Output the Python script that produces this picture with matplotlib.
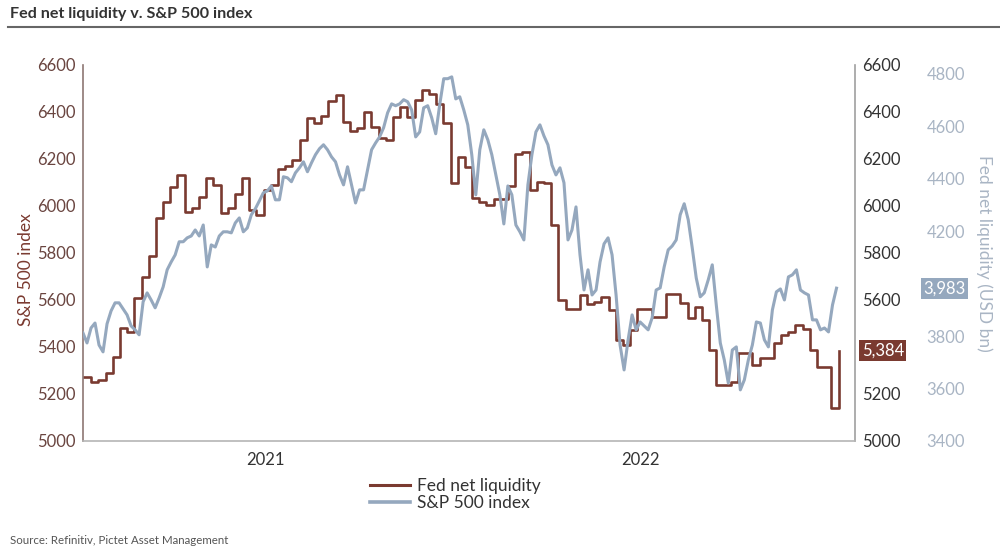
import pandas as pd
import matplotlib
matplotlib.use("Agg")
import matplotlib.pyplot as plt
import matplotlib.transforms as mtransforms
from matplotlib.lines import Line2D

plt.rcParams["font.family"] = ["Lato", "DejaVu Sans"]

# ── data ─────────────────────────────────────────────────────────────────────
# Fed net liquidity, USD bn, weekly from 2020-07-08
fed_start = "2020-07-08"
fed_liq = [
    5272, 5251, 5260, 5289, 5357, 5481, 5464, 5608, 5698, 5787,
    5949, 6017, 6081, 6132, 5974, 5991, 6038, 6119, 6089, 5970,
    5991, 6051, 6119, 5983, 5962, 6068, 6089, 6157, 6170, 6196,
    6281, 6374, 6353, 6383, 6447, 6472, 6357, 6319, 6332, 6400,
    6336, 6289, 6281, 6379, 6421, 6379, 6451, 6494, 6476, 6434,
    6353, 6098, 6208, 6166, 6034, 6017, 6004, 6030, 6030, 6085,
    6221, 6230, 6068, 6102, 6098, 5919, 5600, 5562, 5562, 5621,
    5583, 5591, 5613, 5557, 5430, 5408, 5472, 5562, 5562, 5528,
    5528, 5625, 5625, 5587, 5523, 5570, 5515, 5387, 5238, 5238,
    5251, 5374, 5374, 5323, 5353, 5353, 5417, 5451, 5464, 5494,
    5477, 5387, 5315, 5315, 5140, 5384,
]

# S&P 500 index, roughly twice a week between these dates
sp_start, sp_end = "2020-07-07", "2022-07-11"
sp500 = [
    3812, 3774, 3831, 3850, 3766, 3740, 3847, 3896, 3927, 3927,
    3904, 3881, 3839, 3824, 3805, 3931, 3965, 3938, 3908, 3946,
    3988, 4053, 4083, 4110, 4160, 4160, 4175, 4182, 4205, 4182,
    4224, 4064, 4148, 4140, 4182, 4198, 4198, 4194, 4232, 4251,
    4198, 4213, 4263, 4286, 4316, 4347, 4354, 4373, 4320, 4320,
    4408, 4404, 4389, 4423, 4442, 4465, 4427, 4461, 4492, 4515,
    4530, 4511, 4484, 4465, 4415, 4377, 4446, 4377, 4308, 4358,
    4358, 4434, 4511, 4537, 4560, 4595, 4652, 4686, 4679, 4686,
    4702, 4694, 4663, 4560, 4579, 4671, 4679, 4633, 4572, 4683,
    4782, 4782, 4789, 4705, 4713, 4663, 4606, 4492, 4339, 4511,
    4587, 4549, 4492, 4415, 4339, 4228, 4373, 4339, 4224, 4198,
    4167, 4377, 4492, 4579, 4606, 4564, 4530, 4453, 4415, 4442,
    4385, 4167, 4205, 4293, 4110, 3976, 4053, 3957, 3976, 4083,
    4152, 4175, 4110, 3957, 3766, 3671, 3786, 3881, 3824, 3854,
    3839, 3824, 3870, 3976, 3984, 4064, 4129, 4144, 4167, 4263,
    4305, 4244, 4137, 4022, 3950, 3965, 4015, 4072, 3919, 3774,
    3709, 3621, 3747, 3759, 3595, 3633, 3709, 3766, 3854, 3850,
    3786, 3759, 3900, 3969, 3980, 3938, 4026, 4034, 4053, 3976,
    3965, 3957, 3862, 3862, 3824, 3831, 3816, 3919, 3983,
]

year_ticks = ["2021-01-01", "2022-01-01"]
year_labels = ["2021", "2022"]
liq_ticks = list(range(5000, 6601, 200))
sp_ticks = list(range(3400, 4801, 200))

fed_dates = pd.date_range(fed_start, periods=len(fed_liq), freq="7D")
sp_dates = pd.date_range(sp_start, sp_end, periods=len(sp500))

# ── colours ──────────────────────────────────────────────────────────────────
BROWN = "#7a3a30"
BLUE = "#95a8be"
BLUE_TXT = "#a9b5c4"
DARK = "#333333"

# ── figure ───────────────────────────────────────────────────────────────────
fig = plt.figure(figsize=(10, 5.54), dpi=100)
ax = fig.add_axes([0.083, 0.204, 0.772, 0.679])

ax.plot(fed_dates, fed_liq, drawstyle="steps-post", color=BROWN, lw=1.9)
ax.set_ylim(5000, 6600)
ax.set_yticks(liq_ticks)
ax.set_xlim(pd.Timestamp("2020-07-07"), pd.Timestamp("2022-07-29"))
ax.set_xticks([pd.Timestamp(d) for d in year_ticks])
ax.set_xticklabels(year_labels)
ax.tick_params(axis="y", length=0, pad=5, labelsize=12, labelcolor="#6a4540")
ax.tick_params(axis="x", length=0, pad=8, labelsize=12, labelcolor=DARK)
ax.set_ylabel("S&P 500 index", color=BROWN, fontsize=12.5)
ax.yaxis.set_label_coords(-0.064, 0.455)
ax.spines["top"].set_visible(False)
ax.spines["left"].set_color("#8d7773")
ax.spines["right"].set_color("#a0a0a0")
ax.spines["bottom"].set_color("#b5b5b5")
for s in ("left", "right", "bottom"):
    ax.spines[s].set_linewidth(1.2)

# last values, shown as badges over the right-hand scales
last_liq = fed_liq[-1]
last_sp = sp500[-1]

# right-hand copy of the liquidity scale (the badge hides the 5400 label)
ax2 = ax.twinx()
ax2.set_ylim(5000, 6600)
ax2.set_yticks(liq_ticks)
ax2.set_yticklabels(["" if abs(t - last_liq) < 60 else str(t) for t in liq_ticks])
ax2.tick_params(axis="y", length=0, pad=5, labelsize=12, labelcolor=DARK)
for s in ax2.spines.values():
    s.set_visible(False)

# S&P scale, pushed further right (the badge hides the 4000 label)
ax3 = ax.twinx()
ax3.plot(sp_dates, sp500, color=BLUE, lw=2.2)
ax3.set_ylim(3400, 4835)
ax3.set_yticks(sp_ticks)
ax3.set_yticklabels(["" if abs(t - last_sp) < 60 else str(t) for t in sp_ticks])
ax3.spines["right"].set_position(("axes", 1.082))
for s in ax3.spines.values():
    s.set_visible(False)
ax3.tick_params(axis="y", length=0, pad=6, labelsize=12, labelcolor=BLUE_TXT)
ax3.set_ylabel("Fed net liquidity (USD bn)", color=BLUE_TXT, fontsize=12.5,
               rotation=270, labelpad=20)

tr_liq = mtransforms.blended_transform_factory(ax3.transAxes, ax.transData)
tr_sp = mtransforms.blended_transform_factory(ax3.transAxes, ax3.transData)
ax3.text(1.036, last_liq, f"{last_liq:,.0f}", transform=tr_liq,
         ha="center", va="center", color="white", fontsize=12, zorder=10,
         bbox=dict(boxstyle="square,pad=0.15", fc=BROWN, ec="none"))
ax3.text(1.116, last_sp, f"{last_sp:,.0f}", transform=tr_sp,
         ha="center", va="center", color="white", fontsize=12, zorder=10,
         bbox=dict(boxstyle="square,pad=0.15", fc=BLUE, ec="none"))

# legend
handles = [Line2D([], [], color=BROWN, lw=2.2), Line2D([], [], color=BLUE, lw=2.6)]
fig.legend(handles, ["Fed net liquidity", "S&P 500 index"], loc="center",
           bbox_to_anchor=(0.455, 0.108), frameon=False, fontsize=12.5,
           handlelength=2.3, handletextpad=0.4, labelspacing=0.05,
           labelcolor=DARK)

# title, rule and source
fig.text(0.01, 1 - 14 / 554, "Fed net liquidity v. S&P 500 index", fontsize=11.6,
         fontweight="bold", color=DARK, va="center", ha="left")
fig.add_artist(Line2D([0.008, 1.0], [1 - 27 / 554] * 2, color="#666666", lw=1.5))
fig.text(0.01, 1 - 540 / 554, "Source: Refinitiv, Pictet Asset Management",
         fontsize=8.3, color="#555555", va="center", ha="left")

fig.savefig("out.png", dpi=100)
